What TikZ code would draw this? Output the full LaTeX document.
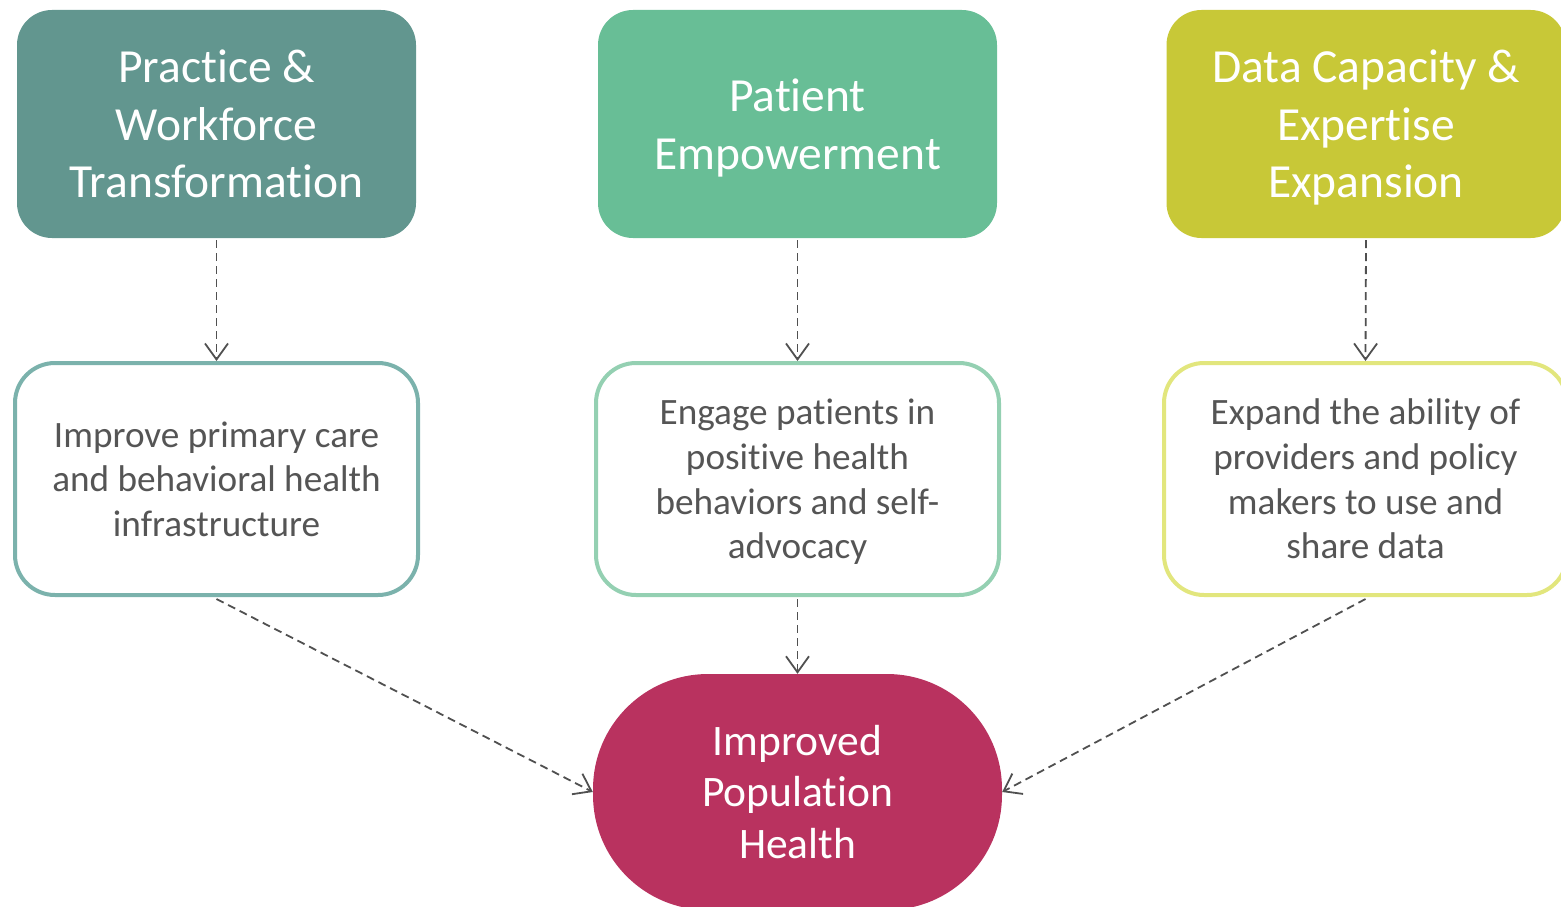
\documentclass[tikz,border=0pt]{standalone}
\usepackage{fontspec}
\setmainfont[RawFeature={-liga}]{Carlito}
\usetikzlibrary{arrows.meta}
\definecolor{cteal}{RGB}{98,150,143}
\definecolor{cgreen}{RGB}{104,190,150}
\definecolor{cyel}{RGB}{200,200,55}
\definecolor{ccrim}{RGB}{185,50,95}
\definecolor{bteal}{RGB}{123,178,172}
\definecolor{bgreen}{RGB}{148,208,178}
\definecolor{byel}{RGB}{226,230,125}
\definecolor{ctext}{RGB}{85,85,85}
\definecolor{carrow}{RGB}{80,80,80}
\tikzset{
  topbox/.style={rectangle, rounded corners=35pt, minimum width=399pt, minimum height=228pt,
    inner sep=0pt, align=center, text=white, text depth=0pt, font=\fontsize{47.5}{57.5}\selectfont},
  lowbox/.style={rectangle, rounded corners=40pt, draw, line width=4pt, fill=white,
    minimum width=403pt, minimum height=232pt, inner sep=0pt, align=center, text=ctext,
    text depth=0pt, font=\fontsize{37.2}{44.7}\selectfont},
  goalbox/.style={rectangle, rounded corners=115pt, fill=ccrim, minimum width=409pt,
    minimum height=236pt, inner sep=0pt, align=center, text=white,
    font=\fontsize{43.5}{51.5}\selectfont},
  conn/.style={draw=carrow, line width=1.8pt, dash pattern=on 8pt off 5pt,
    -{Straight Barb[length=16pt,width=23pt,line width=1.8pt]}}
}
\begin{document}
\begin{tikzpicture}[x=1pt,y=1pt]
\useasboundingbox (0,0) rectangle (1561,-907);
\clip (0,0) rectangle (1561,-907);
\node[topbox, fill=cteal] (t1) at (216.5,-124) {Practice \&\\Workforce\\Transformation};
\node[topbox, fill=cgreen] (t2) at (797.5,-124) {Patient\\Empowerment};
\node[topbox, fill=cyel] (t3) at (1366,-124) {Data Capacity \&\\Expertise\\Expansion};
\node[lowbox, draw=bteal] (b1) at (216.5,-479) {Improve primary care\\and behavioral health\\infrastructure};
\node[lowbox, draw=bgreen] (b2) at (797.5,-479) {Engage patients in\\positive health\\behaviors and self-\\advocacy};
\node[lowbox, draw=byel] (b3) at (1365.5,-479) {Expand the ability of\\providers and policy\\makers to use and\\share data};
\node[goalbox] (g) at (797.5,-792) {Improved\\Population\\Health};
\draw[conn] ([yshift=-2pt]t1.south) -- (b1.north);
\draw[conn] ([yshift=-2pt]t2.south) -- (b2.north);
\draw[conn] ([yshift=-2pt]t3.south) -- (b3.north);
\draw[conn] ([yshift=-2pt]b2.south) -- (g.north);
\draw[conn] ([yshift=-2pt]b1.south) -- (g.west);
\draw[conn] ([yshift=-2pt]b3.south) -- (g.east);
\end{tikzpicture}
\end{document}
